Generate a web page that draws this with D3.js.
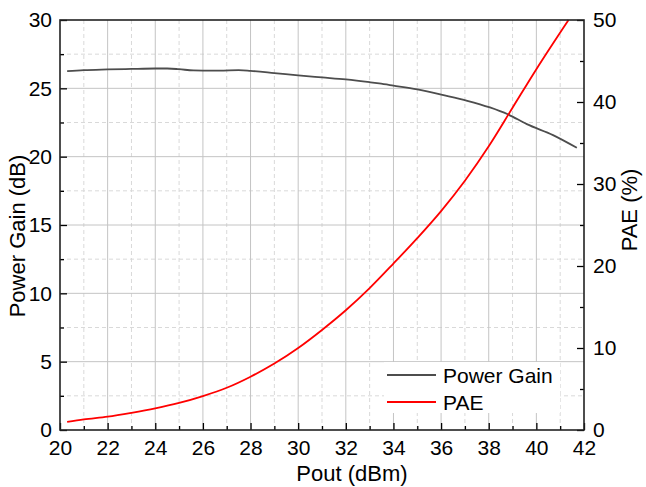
<!DOCTYPE html>
<html>
<head>
<meta charset="utf-8">
<script src="https://cdn.jsdelivr.net/npm/d3@7"></script>
<style>
  body { margin: 0; background: #fff; }
  svg { display: block; font-family: "Liberation Sans", Arial, sans-serif; }
</style>
</head>
<body>
<svg id="chart"></svg>
<script>
// Pout (dBm) vs Power Gain (dB)
const gainPout = [20.3, 21, 22, 23, 24, 24.5, 25, 25.6, 26, 26.7, 27.5, 28, 29, 30, 31, 32, 33, 33.4, 34, 35, 36.1, 37.1, 38.05, 38.8, 39.6, 40.7, 41.7];
const gainDb   = [26.26, 26.33, 26.38, 26.42, 26.45, 26.45, 26.4, 26.31, 26.3, 26.3, 26.33, 26.28, 26.12, 25.95, 25.8, 25.65, 25.45, 25.36, 25.2, 24.92, 24.5, 24.09, 23.6, 23.1, 22.38, 21.58, 20.65];

// Pout (dBm) vs PAE (%)
const paePout = [20.3, 21, 22, 23, 24, 25, 26, 27, 28, 29, 30, 31, 32, 33, 34, 35, 36, 37, 38, 39, 40, 41.35];
const paeVal  = [1.0, 1.3, 1.63, 2.1, 2.64, 3.3, 4.14, 5.15, 6.5, 8.1, 10.0, 12.2, 14.6, 17.3, 20.3, 23.4, 26.7, 30.4, 34.6, 39.3, 44.0, 50.0];

const xTicks = d3.range(20, 43, 2);
const gainTicks = d3.range(0, 31, 5);
const paeTicks = d3.range(0, 51, 10);
const seriesNames = ['Power Gain', 'PAE'];
const seriesColors = ['#4d4d4d', '#ff0000'];

const width = 646, height = 487;
const margin = {top: 20, right: 62, bottom: 57, left: 60};
const iw = width - margin.left - margin.right;
const ih = height - margin.top - margin.bottom;

const svg = d3.select('#chart').attr('width', width).attr('height', height);
const g = svg.append('g').attr('transform', 'translate(' + margin.left + ',' + margin.top + ')');

const x = d3.scaleLinear().domain([20, 42]).range([0, iw]);
const yGain = d3.scaleLinear().domain([0, 30]).range([ih, 0]);
const yPae = d3.scaleLinear().domain([0, 50]).range([ih, 0]);

// grid: minor dashed first, then major solid
const grid = g.append('g').attr('class', 'grid');
grid.selectAll('.vminor').data(d3.range(21, 42, 2)).enter().append('line')
    .attr('x1', d => x(d)).attr('x2', d => x(d)).attr('y1', 0).attr('y2', ih)
    .attr('stroke', '#d9d9d9').attr('stroke-dasharray', '4,3');
grid.selectAll('.hminor').data(d3.range(2.5, 30, 5)).enter().append('line')
    .attr('x1', 0).attr('x2', iw).attr('y1', d => yGain(d)).attr('y2', d => yGain(d))
    .attr('stroke', '#d9d9d9').attr('stroke-dasharray', '4,3');
grid.selectAll('.vmajor').data(xTicks.slice(1, -1)).enter().append('line')
    .attr('x1', d => x(d)).attr('x2', d => x(d)).attr('y1', 0).attr('y2', ih)
    .attr('stroke', '#c4c4c4');
grid.selectAll('.hmajor').data(gainTicks.slice(1, -1)).enter().append('line')
    .attr('x1', 0).attr('x2', iw).attr('y1', d => yGain(d)).attr('y2', d => yGain(d))
    .attr('stroke', '#c4c4c4');

// curves
const gainLine = d3.line().x((d, i) => x(gainPout[i])).y(d => yGain(d)).curve(d3.curveMonotoneX);
const paeLine = d3.line().x((d, i) => x(paePout[i])).y(d => yPae(d)).curve(d3.curveMonotoneX);

// legend box (white, sits over the grid)
const legend = g.append('g').attr('transform', 'translate(' + (384 - margin.left) + ',' + (362 - margin.top) + ')');
legend.append('rect').attr('width', 176).attr('height', 51).attr('fill', '#fff');

g.append('path').datum(gainDb).attr('d', gainLine)
    .attr('fill', 'none').attr('stroke', seriesColors[0]).attr('stroke-width', 1.8);
g.append('path').datum(paeVal).attr('d', paeLine)
    .attr('fill', 'none').attr('stroke', seriesColors[1]).attr('stroke-width', 1.8);

seriesNames.forEach((name, i) => {
    const ly = 13 + i * 27;
    legend.append('line').attr('x1', 3).attr('x2', 52).attr('y1', ly).attr('y2', ly)
        .attr('stroke', seriesColors[i]).attr('stroke-width', 1.8);
    legend.append('text').attr('x', 59).attr('y', ly + 7.5)
        .attr('font-size', 21).attr('fill', '#000').text(name);
});

// axes
function styleAxis(sel) {
    sel.select('.domain').remove();
    sel.selectAll('.tick line').attr('stroke', '#000').attr('stroke-width', 1.3);
    sel.selectAll('.tick text').attr('font-size', 21).attr('fill', '#000')
        .attr('font-family', '"Liberation Sans", Arial, sans-serif');
}

g.append('g').attr('transform', 'translate(0,' + ih + ')')
    .call(d3.axisBottom(x).tickValues(xTicks).tickSize(-7).tickPadding(10).tickFormat(d3.format('d')))
    .call(styleAxis);
g.append('g').attr('transform', 'translate(0,' + ih + ')')
    .call(d3.axisBottom(x).tickValues(d3.range(21, 42, 2)).tickSize(-4).tickFormat(''))
    .call(styleAxis);

g.append('g')
    .call(d3.axisLeft(yGain).tickValues(gainTicks).tickSize(-7).tickPadding(8))
    .call(styleAxis);
g.append('g')
    .call(d3.axisLeft(yGain).tickValues(d3.range(2.5, 30, 5)).tickSize(-4).tickFormat(''))
    .call(styleAxis);

g.append('g').attr('transform', 'translate(' + iw + ',0)')
    .call(d3.axisRight(yPae).tickValues(paeTicks).tickSize(-7).tickPadding(9))
    .call(styleAxis);
g.append('g').attr('transform', 'translate(' + iw + ',0)')
    .call(d3.axisRight(yPae).tickValues(d3.range(5, 50, 10)).tickSize(-4).tickFormat(''))
    .call(styleAxis);

// frame
g.append('rect').attr('width', iw).attr('height', ih)
    .attr('fill', 'none').attr('stroke', '#222').attr('stroke-width', 1.6);

// axis titles
svg.append('text').attr('x', 352).attr('y', 481).attr('text-anchor', 'middle')
    .attr('font-size', 22).text('Pout (dBm)');
svg.append('text').attr('transform', 'translate(25,236) rotate(-90)').attr('text-anchor', 'middle')
    .attr('font-size', 22).text('Power Gain (dB)');
svg.append('text').attr('transform', 'translate(637,210) rotate(-90)').attr('text-anchor', 'middle')
    .attr('font-size', 22).text('PAE (%)');
</script>
</body>
</html>
